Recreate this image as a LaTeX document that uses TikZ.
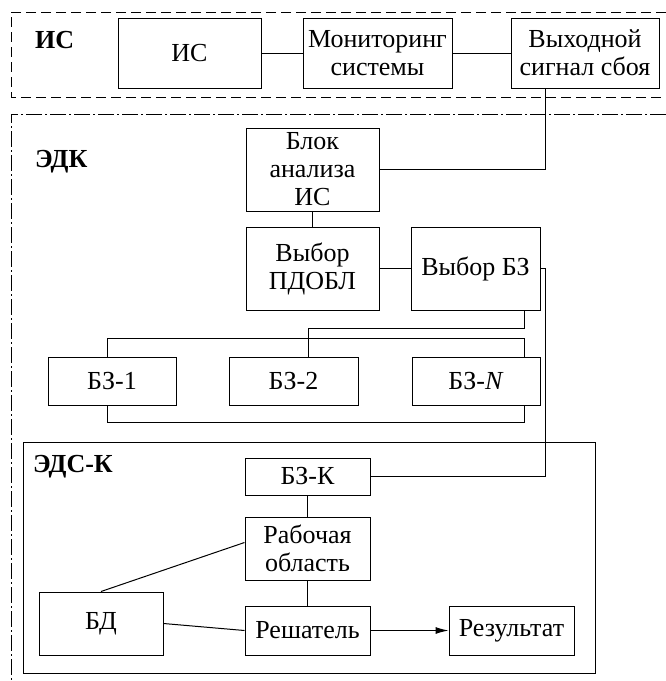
\documentclass[tikz,border=0pt]{standalone}
\usepackage{fontspec}
\setmainfont{Liberation Serif}
\usepackage{tikz}
\usetikzlibrary{arrows.meta,positioning}

\begin{document}
\begin{tikzpicture}[
        x=1pt, y=1pt,
        block/.style={draw, line width=1pt, align=center, inner sep=0pt, font=\fontsize{26}{28}\selectfont},
        zone/.style={font=\fontsize{26}{28}\selectfont\bfseries, anchor=west, inner sep=0pt},
        line/.style={line width=1pt},
        frameis/.style={line width=1pt, dash pattern=on 10pt off 5pt},
        framedk/.style={line width=1pt, dash pattern=on 16pt off 3pt on 2pt off 3pt}
    ]
        \useasboundingbox (0,0) rectangle (666,-681);
        \draw[frameis] (666,-12) -| (11,-97) -- (666,-97);
        \draw[framedk] (666,-114) -| (11,-681);
        \draw[line] (23,-442) rectangle (595,-673);
        \node[zone] (lis) at (35,-40) {ИС};
        \node[zone] (ledk) at (35,-162) {ЭДК};
        \node[zone] (leds) at (33,-467) {ЭДС-К};
        \node[block, minimum width=143pt, minimum height=70pt] (is) at (189.5,-53) {ИС};
        \node[block, minimum width=149pt, minimum height=70pt, right=41pt of is] (mon) {Мониторинг\\системы};
        \node[block, minimum width=148pt, minimum height=70pt, right=58pt of mon] (out) {Выходной\\сигнал сбоя};
        \node[block, minimum width=133pt, minimum height=83pt] (blok) at (312.5,-169.5) {Блок\\анализа\\ИС};
        \node[block, minimum width=133pt, minimum height=83pt, below=15pt of blok] (pdobl) {Выбор\\ПДОБЛ};
        \node[block, minimum width=129pt, minimum height=83pt, right=31pt of pdobl] (vbz) {Выбор БЗ};
        \node[block, minimum width=129pt, minimum height=48pt] (bz2) at (293.5,-381) {БЗ-2};
        \node[block, minimum width=128pt, minimum height=48pt, left=52pt of bz2] (bz1) {БЗ-1};
        \node[block, minimum width=128pt, minimum height=48pt, right=53pt of bz2] (bzn) {БЗ-\textit{N}};
        \node[block, minimum width=125pt, minimum height=37pt] (bzk) at (307.5,-476.5) {БЗ-К};
        \node[block, minimum width=125pt, minimum height=63pt, below=21pt of bzk] (rab) {Рабочая\\область};
        \node[block, minimum width=125pt, minimum height=49pt, below=25pt of rab] (resh) {Решатель};
        \node[block, minimum width=124pt, minimum height=63pt, left=81pt of resh.south west, anchor=south east] (bd) {БД};
        \node[block, minimum width=125pt, minimum height=49pt, right=78pt of resh] (res) {Результат};
        \coordinate (tap) at (545,-100);
        \draw[line] (is) -- (mon);
        \draw[line] (mon) -- (out);
        \draw[line] (out.south -| tap) |- (blok.east);
        \draw[line] (blok) -- (pdobl);
        \draw[line] (pdobl) -- (vbz);
        \draw[line] (vbz.east) -| (tap |- bzk.east) -- (bzk.east);
        \draw[line] ([xshift=48.5pt]vbz.south) -- ++(0,-18) -| ([xshift=14.5pt]bz2.north);
        \draw[line] ([xshift=-5pt]bz1.north) -- ++(0,18) -| ([xshift=48pt]bzn.north);
        \draw[line] ([xshift=-5pt]bz1.south) -- ++(0,-17) -| ([xshift=48pt]bzn.south);
        \draw[line] (bzk) -- (rab);
        \draw[line] (rab) -- (resh);
        \draw[line] (bd.north) -- ([yshift=6pt]rab.west);
        \draw[line] (bd.east) -- (resh.west);
        \draw[line, -{Latex[length=13pt,width=7pt]}] (resh) -- (res);
    \end{tikzpicture}
\end{document}
